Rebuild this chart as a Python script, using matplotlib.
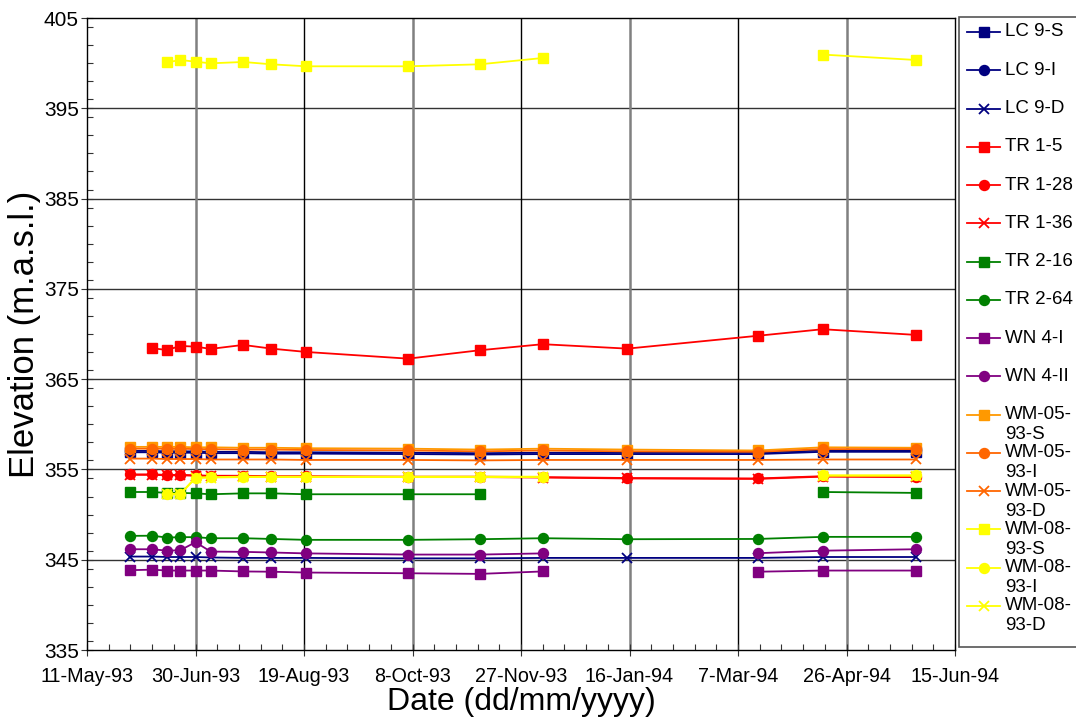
import matplotlib
matplotlib.use('Agg')
import matplotlib.pyplot as plt
import matplotlib.dates as mdates
from matplotlib.lines import Line2D
from matplotlib.patches import Rectangle
from matplotlib.ticker import FuncFormatter, MultipleLocator
import numpy as np
import pandas as pd

# ---------------- data ----------------
dates = ['1993-05-31', '1993-06-10', '1993-06-17', '1993-06-23', '1993-06-30', '1993-07-07',
         '1993-07-22', '1993-08-04', '1993-08-20', '1993-10-06', '1993-11-08', '1993-12-07',
         '1994-01-15', '1994-03-16', '1994-04-15', '1994-05-28']

lc9_s = [356.9, 356.9, 356.85, 356.85, 356.85, 356.8, 356.8, 356.75, 356.75, 356.7, 356.65, 356.7, 356.7, 356.7, 356.95, 356.95]
lc9_i = [357.05, 357.05, 357.0, 357.0, 357.0, 356.95, 356.95, 356.9, 356.9, 356.85, 356.8, 356.85, 356.85, 356.85, 357.1, 357.1]
lc9_d = [345.35, 345.35, 345.3, 345.3, 345.3, 345.25, 345.2, 345.2, 345.2, 345.15, 345.15, 345.2, 345.2, 345.2, 345.3, 345.3]
tr1_5 = [None, 368.42, 368.23, 368.68, 368.6, 368.35, 368.79, 368.38, 368.01, 367.27, 368.2, 368.87, 368.38, 369.8, 370.53, 369.9]
tr1_28 = [354.45, 354.45, 354.4, 354.4, 354.35, 354.3, 354.3, 354.25, 354.25, 354.2, 354.2, 354.15, 354.05, 354.0, 354.25, 354.2]
tr1_36 = [354.4, 354.4, 354.35, 354.35, 354.3, 354.25, 354.25, 354.2, 354.2, 354.15, 354.15, 354.1, 354.0, 353.95, 354.2, 354.15]
tr2_16 = [352.5, 352.5, 352.4, 352.4, 352.35, 352.25, 352.35, 352.35, 352.25, 352.25, 352.25, None, None, None, 352.5, 352.4]
tr2_64 = [347.64, 347.66, 347.45, 347.5, 347.5, 347.38, 347.38, 347.3, 347.2, 347.2, 347.27, 347.38, 347.27, 347.3, 347.53, 347.53]
wn4_i = [343.84, 343.9, 343.8, 343.8, 343.8, 343.8, 343.7, 343.67, 343.58, 343.5, 343.43, 343.7, None, 343.67, 343.8, 343.8]
wn4_ii = [346.16, 346.16, 346.0, 346.05, 346.94, 345.9, 345.87, 345.8, 345.7, 345.57, 345.57, 345.7, None, 345.72, 346.0, 346.16]
wm05_s = [357.5, 357.5, 357.5, 357.5, 357.45, 357.45, 357.4, 357.4, 357.35, 357.3, 357.2, 357.3, 357.2, 357.1, 357.45, 357.4]
wm05_i = [357.3, 357.3, 357.3, 357.3, 357.25, 357.25, 357.2, 357.2, 357.15, 357.1, 357.0, 357.1, 357.0, 356.95, 357.25, 357.25]
wm05_d = [356.2, 356.2, 356.15, 356.15, 356.15, 356.1, 356.1, 356.1, 356.05, 356.05, 356.0, 356.05, 356.05, 356.05, 356.1, 356.1]
wm08_s = [None, None, 400.09, 400.35, 400.16, 399.98, 400.13, 399.87, 399.65, 399.65, 399.87, 400.57, None, None, 400.95, 400.35]
wm08_i = [None, None, 352.3, 352.3, 354.1, 354.15, 354.2, 354.2, 354.2, 354.2, 354.2, 354.2, None, None, 354.35, 354.35]
wm08_d = [None, None, 352.25, 352.25, 354.05, 354.1, 354.15, 354.15, 354.15, 354.15, 354.15, 354.15, None, None, 354.3, 354.3]

labels = ['LC 9-S', 'LC 9-I', 'LC 9-D', 'TR 1-5', 'TR 1-28', 'TR 1-36', 'TR 2-16', 'TR 2-64',
          'WN 4-I', 'WN 4-II', 'WM-05-\n93-S', 'WM-05-\n93-I', 'WM-05-\n93-D',
          'WM-08-\n93-S', 'WM-08-\n93-I', 'WM-08-\n93-D']
series = [lc9_s, lc9_i, lc9_d, tr1_5, tr1_28, tr1_36, tr2_16, tr2_64, wn4_i, wn4_ii,
          wm05_s, wm05_i, wm05_d, wm08_s, wm08_i, wm08_d]
colors = ['#000080', '#000080', '#000080', '#FF0000', '#FF0000', '#FF0000', '#008000', '#008000',
          '#800080', '#800080', '#FF9900', '#FF6600', '#FF6600', '#FFFF00', '#FFFF00', '#FFFF00']
markers = ['s', 'o', 'x', 's', 'o', 'x', 's', 'o', 's', 'o', 's', 'o', 'x', 's', 'o', 'x']

tick_dates = ['1993-05-11', '1993-06-30', '1993-08-19', '1993-10-08', '1993-11-27',
              '1994-01-16', '1994-03-07', '1994-04-26', '1994-06-15']
y_min, y_max, y_step = 335, 405, 10

plt.rcParams['font.family'] = ['Liberation Sans', 'DejaVu Sans']

W, H = 1076, 727
fig = plt.figure(figsize=(W / 100, H / 100), dpi=100)
ax = fig.add_axes([87 / W, 1 - 650 / H, (955 - 87) / W, (650 - 18) / H])

x = pd.to_datetime(dates)
for vals, c, m in zip(series, colors, markers):
    v = np.array([np.nan if a is None else a for a in vals], dtype=float)
    if m == 'x':
        ax.plot(x, v, color=c, lw=1.3, marker='x', ms=7, mew=1.3, zorder=3)
    else:
        ax.plot(x, v, color=c, lw=1.3, marker=m, ms=6.8 if m == 's' else 7.2,
                mec=c, mfc=c, zorder=3)

tks = pd.to_datetime(tick_dates)
ax.set_xlim(tks[0], tks[-1])
ax.set_ylim(y_min, y_max)
ax.set_xticks(tks)
minor = pd.date_range(tks[0], tks[-1], freq='10D')
ax.set_xticks(minor, minor=True)
ax.xaxis.set_major_formatter(FuncFormatter(
    lambda v, p: (lambda d: f"{d.day}-{d.strftime('%b-%y')}")(mdates.num2date(v))))
ax.set_yticks(np.arange(y_min, y_max + 1, y_step))
ax.yaxis.set_minor_locator(MultipleLocator(2))

# grid
for yv in np.arange(y_min + y_step, y_max, y_step):
    ax.axhline(yv, color='#333333', lw=1.0, zorder=1)
for i, t in enumerate(tks[1:-1]):
    if i % 2 == 0:
        ax.axvline(t, color='#808080', lw=1.8, zorder=1)
    else:
        ax.axvline(t, color='black', lw=1.0, zorder=1)

for s in ax.spines.values():
    s.set_color('black')
    s.set_linewidth(1.0)

ax.tick_params(axis='both', which='major', direction='inout', length=8, width=0.8, color='#333333')
ax.tick_params(axis='both', which='minor', direction='in', length=4, width=0.8, color='#333333')
ax.tick_params(axis='x', which='major', pad=8, labelsize=14.2)
ax.tick_params(axis='y', which='major', pad=2, labelsize=15)

ax.set_xlabel('Date (dd/mm/yyyy)', fontsize=23, labelpad=1)
ax.set_ylabel('Elevation (m.a.s.l.)', fontsize=25, labelpad=2)

# ---------------- legend (manual, Excel-like) ----------------
def fx(px):
    return px / W

def fy(py):
    return 1 - py / H

fig.add_artist(Rectangle((fx(959), fy(647)), fx(1090) - fx(959), fy(17) - fy(647),
                         transform=fig.transFigure, facecolor='white', edgecolor='#555555',
                         lw=1.2, zorder=5))
step = (606 - 32) / 15
for i, (lab, c, m) in enumerate(zip(labels, colors, markers)):
    yp = 32 + i * step
    fig.add_artist(Line2D([fx(967), fx(1000)], [fy(yp), fy(yp)], transform=fig.transFigure,
                          color=c, lw=1.3, zorder=6))
    if m == 'x':
        fig.add_artist(Line2D([fx(983.5)], [fy(yp)], transform=fig.transFigure, color=c,
                              marker='x', ms=7, mew=1.3, lw=0, zorder=7))
    else:
        fig.add_artist(Line2D([fx(983.5)], [fy(yp)], transform=fig.transFigure, color=c,
                              marker=m, ms=6.8 if m == 's' else 7.2, mfc=c, mec=c, lw=0, zorder=7))
    for j, line in enumerate(lab.split('\n')):
        fig.text(fx(1005), fy(yp + j * 20), line, fontsize=13.5, va='center', ha='left',
                 zorder=8)

fig.savefig('out.png', dpi=100)
